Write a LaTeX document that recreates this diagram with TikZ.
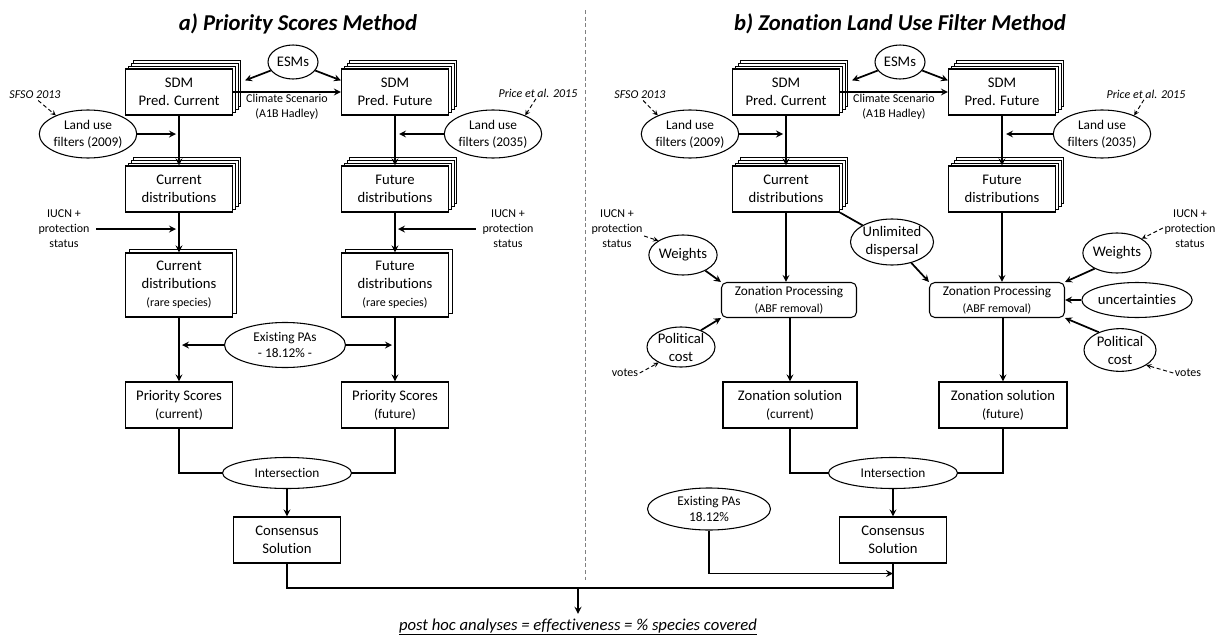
\documentclass[tikz,border=0pt]{standalone}
\usepackage{fontspec}
\setmainfont{Carlito}[Ligatures=NoCommon]
\usepackage{tikz}
\usetikzlibrary{calc,shapes.geometric,shadows}
\def\fmain{\fontsize{11}{13.5}\selectfont}
\def\fsub{\fontsize{10}{12.5}\selectfont}
\def\fnote{\fontsize{9}{11.3}\selectfont}
\def\ftitle{\fontsize{17}{20}\selectfont\bfseries\itshape}
\def\fpost{\fontsize{12.5}{15}\selectfont\itshape}

\begin{document}
\begin{tikzpicture}[x=0.75pt,y=-0.75pt,
    box/.style={draw,line width=0.9pt,fill=white,minimum width=80.25pt,minimum height=34.5pt,align=center,inner sep=1pt,font=\fmain},
    stack/.style={box,
      copy shadow={shadow xshift=6.3pt,shadow yshift=6.3pt,fill=white,draw=black,line width=0.7pt},
      copy shadow={shadow xshift=4.2pt,shadow yshift=4.2pt,fill=white,draw=black,line width=0.7pt},
      copy shadow={shadow xshift=2.1pt,shadow yshift=2.1pt,fill=white,draw=black,line width=0.7pt}},
    pair/.style={box,minimum height=48pt,
      copy shadow={shadow xshift=3pt,shadow yshift=3pt,fill=white,draw=black,line width=0.7pt}},
    oval/.style={draw,ellipse,line width=0.8pt,fill=white,align=center,inner sep=0pt,font=\fmain},
    proc/.style={draw,rounded corners=4pt,line width=0.8pt,fill=white,minimum width=101.25pt,minimum height=26.25pt,align=center,inner sep=0pt,font=\fsub},
    note/.style={align=center,font=\fnote,inner sep=1pt},
    arr/.style={line width=1.3pt,-stealth},
    darr/.style={densely dashed,line width=0.7pt,-stealth},
    link/.style={line width=1.3pt}]
\useasboundingbox[fill=white] (0,0) rectangle (1225,639);

\node[font=\ftitle] (titA) at (298,24) {a) Priority Scores Method};
\node[font=\ftitle] (titB) at (900,24) {b) Zonation Land Use Filter Method};
\coordinate (sepT) at (585,10);
\coordinate (sepB) at (585,580);
\draw[gray,densely dashed,line width=0.6pt] (sepT) -- (sepB);

% a) priority scores
\node[oval,minimum width=37.5pt,minimum height=25.5pt] (esmA) at (293,62) {ESMs};
\node[stack] (sdmA) at (179,92) {SDM\\Pred. Current};
\node[stack] (sdmB) at (395,92) {SDM\\Pred. Future};
\draw[arr] (sdmA.east) -- node[below,note]{Climate Scenario\\(A1B Hadley)} (sdmB.west);
\draw[arr] (esmA) -- ($(sdmA.north east)+(12,12)$);
\draw[arr] (esmA) -- ($(sdmB.north west)+(0,12)$);

\node[note,font=\fnote\itshape] (srcA) at (35,95) {SFSO 2013};
\node[oval,font=\fsub,minimum width=67.5pt,minimum height=36pt] (luA) at (88,134) {Land use\\filters (2009)};
\draw[darr] (srcA.-60) -- (luA.150);
\draw[arr] (luA.east) -- ($(luA.east -| sdmA.south)+(-3,0)$);
\node[note,font=\fnote\itshape] (srcB) at (538,93) {Price et al. 2015};
\node[oval,font=\fsub,minimum width=67.5pt,minimum height=36pt] (luB) at (493,134) {Land use\\filters (2035)};
\draw[darr] (srcB.-110) -- (luB.30);
\draw[arr] (luB.west) -- ($(luB.west -| sdmB.south)+(4,0)$);

\node[stack] (curA) at (179,189) {Current\\distributions};
\node[stack] (futB) at (395,189) {Future\\distributions};
\draw[arr] (sdmA.south) -- (curA.north);
\draw[arr] (sdmB.south) -- (futB.north);

\node[note] (iuA) at (64,229) {IUCN +\\protection\\status};
\node[note] (iuB) at (508,229) {IUCN +\\protection\\status};
\draw[arr,shorten <=4pt] (iuA.east) -- ($(iuA.east -| curA.south)+(-3,0)$);
\draw[arr,shorten <=4pt] (iuB.west) -- ($(iuB.west -| futB.south)+(3,0)$);

\node[pair] (rarA) at (179,285) {Current\\distributions\\{\fnote(rare species)}};
\node[pair] (rarB) at (395,285) {Future\\distributions\\{\fnote(rare species)}};
\draw[arr] (curA.south) -- (rarA.north);
\draw[arr] (futB.south) -- (rarB.north);

\node[oval,font=\fsub,minimum width=90.75pt,minimum height=33.75pt] (paA) at (285,345) {Existing PAs\\- 18.12\% -};
\draw[arr] (paA.west) -- ($(paA.west -| rarA.south)+(3,0)$);
\draw[arr] (paA.east) -- ($(paA.east -| rarB.south)+(-3,0)$);

\node[box] (psA) at (179,405) {Priority Scores\\{\fsub(current)}};
\node[box] (psB) at (395,405) {Priority Scores\\{\fsub(future)}};
\draw[arr] (rarA.south) -- (psA.north);
\draw[arr] (rarB.south) -- (psB.north);

\node[oval,font=\fsub,minimum width=96.75pt,minimum height=23.25pt] (inA) at (287,473) {Intersection};
\draw[link] (psA.south) |- (inA.west);
\draw[link] (psB.south) |- (inA.east);
\node[box] (coA) at (287,540) {Consensus\\Solution};
\draw[arr] (inA.south) -- (coA.north);

% b) zonation
\node[oval,minimum width=37.5pt,minimum height=25.5pt] (esmB) at (900,62) {ESMs};
\node[stack] (sdmC) at (786,92) {SDM\\Pred. Current};
\node[stack] (sdmD) at (1002,92) {SDM\\Pred. Future};
\draw[arr] (sdmC.east) -- node[below,note]{Climate Scenario\\(A1B Hadley)} (sdmD.west);
\draw[arr] (esmB) -- ($(sdmC.north east)+(12,12)$);
\draw[arr] (esmB) -- ($(sdmD.north west)+(0,12)$);

\node[note,font=\fnote\itshape] (srcC) at (640,95) {SFSO 2013};
\node[oval,font=\fsub,minimum width=67.5pt,minimum height=36pt] (luC) at (690,134) {Land use\\filters (2009)};
\draw[darr] (srcC.-60) -- (luC.150);
\draw[arr] (luC.east) -- ($(luC.east -| sdmC.south)+(-3,0)$);
\node[note,font=\fnote\itshape] (srcD) at (1146,94) {Price et al. 2015};
\node[oval,font=\fsub,minimum width=67.5pt,minimum height=36pt] (luD) at (1102,134) {Land use\\filters (2035)};
\draw[darr] (srcD.-110) -- (luD.30);
\draw[arr] (luD.west) -- ($(luD.west -| sdmD.south)+(4,0)$);

\node[stack] (curC) at (786,189) {Current\\distributions};
\node[stack] (futD) at (1002,189) {Future\\distributions};
\draw[arr] (sdmC.south) -- (curC.north);
\draw[arr] (sdmD.south) -- (futD.north);

\node[proc] (zpC) at (789,300) {Zonation Processing\\{\fnote(ABF removal)}};
\node[proc] (zpD) at (997,300) {Zonation Processing\\{\fnote(ABF removal)}};
\draw[arr] (curC.south) -- (curC.south |- zpC.north);
\draw[arr] (futD.south) -- (futD.south |- zpD.north);

\node[oval,minimum width=61pt,minimum height=34.5pt] (unC) at (892,242) {Unlimited\\dispersal};
\draw[link] (curC.south east) -- (unC);
\draw[arr] (unC) -- (zpD.north west);

\node[oval,minimum width=49.5pt,minimum height=30pt] (wC) at (683,255) {Weights};
\node[note] (iuC) at (617,229) {IUCN +\\protection\\status};
\draw[darr] ($(iuC.east)+(0,7)$) -- (wC.150);
\draw[arr] (wC.-35) -- (zpC.north west);
\node[oval,minimum width=51pt,minimum height=30pt] (pcC) at (681,347) {Political\\cost};
\draw[arr] (pcC.40) -- (zpC.south west);
\node[note] (voC) at (625,373) {votes};
\draw[darr] (voC.east) -- (pcC.-145);

\node[oval,minimum width=49.5pt,minimum height=30pt] (wD) at (1117,253) {Weights};
\node[note] (iuD) at (1190,229) {IUCN +\\protection\\status};
\draw[darr] ($(iuD.west)+(0,-1)$) -- (wD.30);
\draw[arr] (wD.-145) -- (zpD.north east);
\node[oval,minimum width=80.25pt,minimum height=26.25pt] (unD) at (1137,300) {uncertainties};
\draw[arr] (unD.west) -- (zpD.east);
\node[oval,minimum width=54pt,minimum height=32pt] (pcD) at (1120,350) {Political\\cost};
\draw[arr] (pcD.140) -- (zpD.south east);
\node[note] (voD) at (1188,373) {votes};
\draw[darr] (voD.west) -- (pcD.-30);

\node[box,minimum width=100.5pt] (zsC) at (790,405) {Zonation solution\\{\fsub(current)}};
\node[box,minimum width=96pt] (zsD) at (1003,405) {Zonation solution\\{\fsub(future)}};
\draw[arr] (zsC.north |- zpC.south) -- (zsC.north);
\draw[arr] (zsD.north |- zpD.south) -- (zsD.north);

\node[oval,font=\fsub,minimum width=96.75pt,minimum height=23.25pt] (inB) at (893,473) {Intersection};
\draw[link] (zsC.south) |- (inB.west);
\draw[link] (zsD.south) |- (inB.east);
\node[box] (coB) at (893,540) {Consensus\\Solution};
\draw[arr] (inB.south) -- (coB.north);
\node[oval,font=\fsub,minimum width=92.25pt,minimum height=31.5pt] (paB) at (709,509) {Existing PAs\\18.12\%};
\draw[arr] (paB.south) |- ($(coB.south)+(0,10)$);

% both methods
\coordinate (post) at (578,588);
\draw[link] (coA.south) |- (post);
\draw[link] (coB.south) |- (post);
\node[font=\fpost] (res) at (578,627) {\underline{post hoc analyses = effectiveness = \% species covered}};
\draw[arr] (post) -- (res.north);
\end{tikzpicture}
\end{document}
